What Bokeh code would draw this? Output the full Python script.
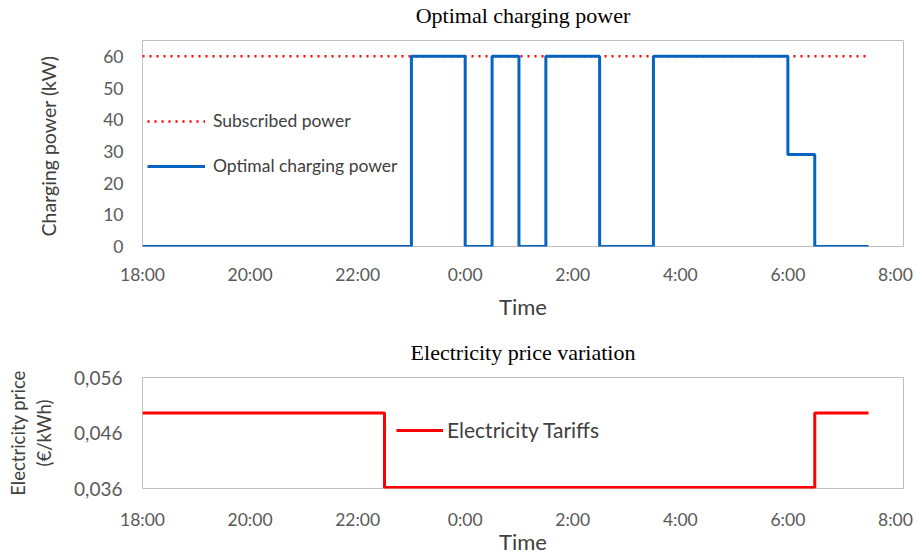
from bokeh.plotting import figure
from bokeh.layouts import column
from bokeh.models import Legend, LegendItem, FixedTicker, Range1d, Title
from bokeh.embed import file_html
from bokeh.resources import INLINE

# ---- data ----
power_times = ["18:00", "23:00", "0:00", "0:30", "1:00", "1:30", "2:30", "3:30", "6:00", "6:30", "7:30"]
power_kw = [0, 60, 0, 60, 0, 60, 0, 60, 29, 0, 0]
subscribed_times = ["18:00", "7:30"]
subscribed_kw = [60, 60]
tariff_times = ["18:00", "22:30", "6:30", "7:30"]
tariff_eur_kwh = [0.0496, 0.0362, 0.0496, 0.0496]
x_tick_labels = ["18:00", "20:00", "22:00", "0:00", "2:00", "4:00", "6:00", "8:00"]
power_ticks = [0, 10, 20, 30, 40, 50, 60]
price_ticks = [0.036, 0.046, 0.056]
price_tick_labels = ["0,036", "0,046", "0,056"]


def hours(t):
    h, m = t.split(":")
    return (int(h) + int(m) / 60 - 18) % 24


x_tick_pos = [hours(t) for t in x_tick_labels]
x_tick_pos[-1] = 14.0
x_overrides = {pos: lab for pos, lab in zip(x_tick_pos, x_tick_labels)}

TICK_FONT = "Lato"
GRAY = "#595959"
DARK = "#404040"


def style(p):
    p.outline_line_color = "#BFBFBF"
    p.outline_line_width = 1
    p.xgrid.visible = False
    p.ygrid.visible = False
    p.background_fill_color = "white"
    p.border_fill_color = "white"
    for ax in (p.xaxis[0], p.yaxis[0]):
        ax.axis_line_color = None
        ax.major_tick_line_color = None
        ax.minor_tick_line_color = None
        ax.major_tick_out = 0
        ax.major_tick_in = 0
        ax.major_label_text_font = TICK_FONT
        ax.major_label_text_font_size = "17.5px"
        ax.major_label_text_color = GRAY
        ax.axis_label_text_font = TICK_FONT
        ax.axis_label_text_font_style = "normal"
        ax.axis_label_text_color = DARK


def add_title(p, text):
    # thin spacer panel next to the frame, then the real title above it
    p.add_layout(Title(text=" ", text_font_size="1px", standoff=10), "above")
    p.add_layout(Title(text=text, align="center", text_font="Liberation Serif",
                       text_font_size="22px", text_font_style="normal",
                       text_color="black", standoff=0), "above")


# ---- top chart ----
p1 = figure(width=918, height=330, output_backend="svg", toolbar_location=None,
            x_range=Range1d(0, 14.15), y_range=Range1d(0, 65),
            min_border_left=142, min_border_right=12, min_border_top=39, min_border_bottom=84)
style(p1)
r_sub = p1.line([hours(t) for t in subscribed_times], subscribed_kw, line_color="#FF0000",
                line_width=2.5, line_dash="2 5")
r_opt = p1.step([hours(t) for t in power_times], power_kw, mode="after", line_color="#0563C1",
                line_width=3)
p1.xaxis.ticker = FixedTicker(ticks=x_tick_pos)
p1.xaxis.major_label_overrides = x_overrides
p1.xaxis.major_label_standoff = 17
p1.xaxis.axis_label = "Time"
p1.xaxis.axis_label_text_font_size = "22px"
p1.xaxis.axis_label_standoff = 5
p1.yaxis.ticker = FixedTicker(ticks=power_ticks)
p1.yaxis.major_label_standoff = 19
p1.yaxis.axis_label = "Charging power  (kW)"
p1.yaxis.axis_label_text_font_size = "19.5px"
p1.yaxis.axis_label_standoff = 40
add_title(p1, "Optimal charging power")

leg1 = Legend(items=[LegendItem(label="Subscribed power", renderers=[r_sub]),
                     LegendItem(label="Optimal charging power", renderers=[r_opt])],
              location=(5, 70), background_fill_alpha=0, border_line_color=None,
              glyph_width=58, glyph_height=20, label_standoff=8, spacing=24,
              padding=0, margin=0, label_text_font=TICK_FONT, label_text_font_size="17.5px",
              label_text_color=DARK)
p1.add_layout(leg1)

# ---- bottom chart ----
p2 = figure(width=918, height=227, output_backend="svg", toolbar_location=None,
            x_range=Range1d(0, 14.15), y_range=Range1d(0.036, 0.056),
            min_border_left=139, min_border_right=15, min_border_top=47, min_border_bottom=62)
style(p2)
r_tar = p2.step([hours(t) for t in tariff_times], tariff_eur_kwh, mode="after",
                line_color="#FF0000", line_width=3)
p2.xaxis.ticker = FixedTicker(ticks=x_tick_pos)
p2.xaxis.major_label_overrides = x_overrides
p2.xaxis.major_label_standoff = 20
p2.xaxis.axis_label = "Time"
p2.xaxis.axis_label_text_font_size = "22px"
p2.xaxis.axis_label_standoff = -5
p2.yaxis.ticker = FixedTicker(ticks=price_ticks)
p2.yaxis.major_label_overrides = {t: l for t, l in zip(price_ticks, price_tick_labels)}
p2.yaxis.major_label_text_font_size = "19px"
p2.yaxis.major_label_standoff = 20
p2.yaxis.axis_label = "Electricity price\n(€/kWh)"
p2.yaxis.axis_label_text_font_size = "18.5px"
p2.yaxis.axis_label_standoff = 16
add_title(p2, "Electricity price variation")

leg2 = Legend(items=[LegendItem(label="Electricity Tariffs", renderers=[r_tar])],
              location=(254, 46), background_fill_alpha=0, border_line_color=None,
              glyph_width=47, glyph_height=20, label_standoff=4,
              padding=0, margin=0, label_text_font=TICK_FONT, label_text_font_size="21px",
              label_text_color=DARK)
p2.add_layout(leg2)

layout = column(p1, p2, spacing=0)
open("out.html", "w").write(file_html(layout, INLINE))
